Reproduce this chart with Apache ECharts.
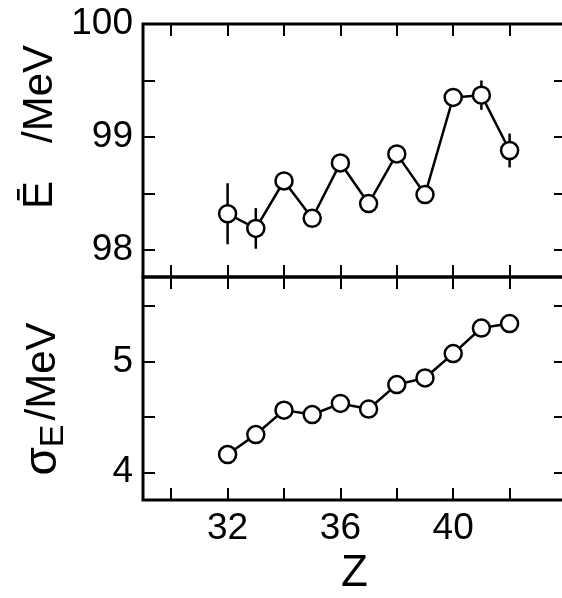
<!DOCTYPE html>
<html>
<head>
<meta charset="utf-8">
<script src="https://cdn.jsdelivr.net/npm/echarts@6/dist/echarts.min.js"></script>
<style>
  html, body { margin: 0; padding: 0; background: #fff; }
  #chart { width: 562px; height: 598px; }
</style>
</head>
<body>
<div id="chart"></div>
<script>
// Z values shared by both panels
const zValues = [32, 33, 34, 35, 36, 37, 38, 39, 40, 41, 42];
// mean energy (MeV) and its error bars
const meanE = [98.32, 98.19, 98.61, 98.28, 98.77, 98.41, 98.85, 98.49, 99.35, 99.37, 98.88];
const meanErr = [0.27, 0.18, 0.07, 0.07, 0.06, 0.06, 0.06, 0.06, 0.07, 0.13, 0.15];
// width sigma_E (MeV)
const sigmaE = [4.16, 4.34, 4.56, 4.52, 4.62, 4.57, 4.79, 4.85, 5.07, 5.30, 5.34];

const xTicks = [30, 32, 34, 36, 38, 40, 42];
const xLabels = [32, 36, 40];
const topTicks = [98, 98.5, 99, 99.5];
const topLabels = [98, 99, 100];
const botTicks = [4, 4.5, 5, 5.5];
const botLabels = [4, 5];

const FONT = "Liberation Sans";

const chart = echarts.init(document.getElementById("chart"));

const pairs = (ys) => zValues.map((z, i) => [z, ys[i]]);

const xAx = (grid, pos, labels) => ({
  type: "value",
  gridIndex: grid,
  position: pos,
  min: 29,
  max: 44,
  axisLine: { show: false },
  splitLine: { show: false },
  axisTick: {
    show: true,
    inside: true,
    length: 12,
    customValues: xTicks,
    lineStyle: { color: "#000", width: 2 },
  },
  axisLabel: labels
    ? { show: true, customValues: labels, color: "#000", fontSize: 37, fontFamily: FONT, margin: 10 }
    : { show: false },
});

const yAx = (grid, pos, min, max, ticks, labels) => ({
  type: "value",
  gridIndex: grid,
  position: pos,
  min: min,
  max: max,
  axisLine: { show: false },
  splitLine: { show: false },
  axisTick: {
    show: true,
    inside: true,
    length: 12,
    customValues: ticks,
    lineStyle: { color: "#000", width: 2 },
  },
  axisLabel: labels
    ? { show: true, customValues: labels, color: "#000", fontSize: 37, fontFamily: FONT, margin: 10 }
    : { show: false },
});

const lineSeries = (xi, yi, ys) => ({
  type: "line",
  xAxisIndex: xi,
  yAxisIndex: yi,
  data: pairs(ys),
  symbol: "circle",
  symbolSize: 17,
  z: 3,
  lineStyle: { color: "#000", width: 2.5 },
  itemStyle: { color: "#fff", borderColor: "#000", borderWidth: 2.5 },
  emphasis: { disabled: true },
});

let option = {
  animation: false,
  backgroundColor: "#fff",
  grid: [
    { left: 143, top: 24, right: -4, height: 253, outerBoundsMode: "none", show: true, borderColor: "#000", borderWidth: 3 },
    { left: 143, top: 277, right: -4, height: 223, outerBoundsMode: "none", show: true, borderColor: "#000", borderWidth: 3 },
  ],
  xAxis: [
    xAx(0, "bottom", null),
    xAx(0, "top", null),
    Object.assign(xAx(1, "bottom", xLabels), {
      name: "Z",
      nameLocation: "middle",
      nameGap: 52,
      nameTextStyle: { color: "#000", fontSize: 44, fontFamily: FONT },
    }),
    xAx(1, "top", null),
  ],
  yAxis: [
    yAx(0, "left", 97.76, 100, topTicks, topLabels),
    yAx(0, "right", 97.76, 100, topTicks, null),
    yAx(1, "left", 3.75, 5.76, botTicks, botLabels),
    yAx(1, "right", 3.75, 5.76, botTicks, null),
  ],
  graphic: [
    {
      type: "text",
      x: 40,
      y: 127,
      rotation: Math.PI / 2,
      style: {
        text: "{e|Ē}{m|/MeV}",
        align: "center",
        verticalAlign: "middle",
        fill: "#000",
        rich: {
          e: { fontSize: 42, fontFamily: FONT, padding: [0, 38, 0, 0] },
          m: { fontSize: 42, fontFamily: FONT },
        },
      },
    },
    {
      type: "text",
      x: 43,
      y: 399,
      rotation: Math.PI / 2,
      style: {
        text: "{s|σ}{b|E}{m|/MeV}",
        align: "center",
        verticalAlign: "middle",
        fill: "#000",
        rich: {
          s: { fontSize: 46, fontFamily: FONT, lineHeight: 56, verticalAlign: "middle" },
          b: { fontSize: 34, fontFamily: FONT, lineHeight: 56, verticalAlign: "bottom", padding: [0, 4, 0, 0] },
          m: { fontSize: 42, fontFamily: FONT, lineHeight: 56, verticalAlign: "middle" },
        },
      },
    },
  ],
  series: [
    {
      type: "custom",
      xAxisIndex: 0,
      yAxisIndex: 0,
      z: 2,
      data: zValues.map((z, i) => [z, meanE[i], meanErr[i]]),
      renderItem: function (params, api) {
        const x = api.value(0);
        const y = api.value(1);
        const e = api.value(2);
        const p1 = api.coord([x, y - e]);
        const p2 = api.coord([x, y + e]);
        return {
          type: "line",
          shape: { x1: p1[0], y1: p1[1], x2: p2[0], y2: p2[1] },
          style: { stroke: "#000", lineWidth: 2.5 },
        };
      },
    },
    lineSeries(0, 0, meanE),
    lineSeries(2, 2, sigmaE),
  ],
};

chart.setOption(option);
</script>
</body>
</html>
